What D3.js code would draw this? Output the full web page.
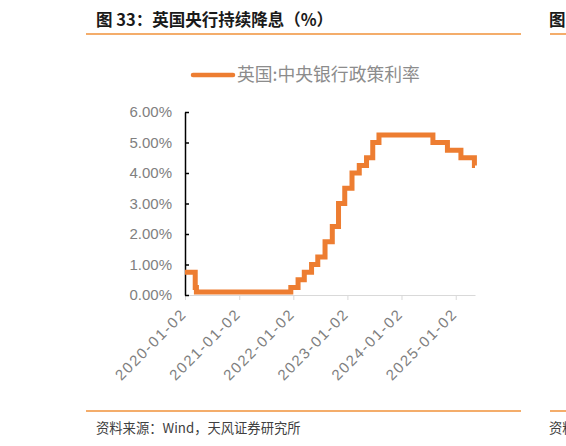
<!DOCTYPE html>
<meta charset="utf-8">
<style type="text/css">
body { margin: 0; background: #fff; }
.title { font-family: "Noto Sans CJK SC", sans-serif; font-size: 16.5px; font-weight: bold; fill: #1a1a1a; }
.rule { stroke: #f0923a; stroke-width: 1.5px; }
.legend-text { font-family: "Noto Sans CJK SC", sans-serif; font-size: 17.8px; fill: #8c8c8c; }
.source { font-family: "Noto Sans CJK SC", sans-serif; font-size: 13.3px; fill: #404040; }
.y.axis text { font-family: "Liberation Sans", sans-serif; font-size: 15px; fill: #808080; }
.x.axis text { font-family: "Liberation Sans", sans-serif; font-size: 15px; fill: #808080; letter-spacing: 1.7px; }
.line { fill: none; stroke: #ed7d31; stroke-width: 5px; stroke-linejoin: miter; }
</style>
<body>
</body>

<script src="https://cdn.jsdelivr.net/npm/d3@7/dist/d3.min.js"></script>
<script>

// policy rate decisions (date, rate %); last entry marks where the series ends
var rateDates = ["2020-01-02", "2020-03-11", "2020-03-19", "2021-12-16", "2022-02-03",
                 "2022-03-17", "2022-05-05", "2022-06-16", "2022-08-04", "2022-09-22",
                 "2022-11-03", "2022-12-15", "2023-02-02", "2023-03-23", "2023-05-11",
                 "2023-06-22", "2023-08-03", "2024-08-01", "2024-11-07", "2025-02-06",
                 "2025-05-08", "2025-05-12"];
var rateValues = [0.75, 0.25, 0.10, 0.25, 0.50,
                  0.75, 1.00, 1.25, 1.75, 2.25,
                  3.00, 3.50, 4.00, 4.25, 4.50,
                  5.00, 5.25, 5.00, 4.75, 4.50,
                  4.25, 4.25];

var xTickLabels = ["2020-01-02", "2021-01-02", "2022-01-02", "2023-01-02", "2024-01-02", "2025-01-02"];
var yTickValues = [0, 1, 2, 3, 4, 5, 6];

var titleText = "图 33：英国央行持续降息（%）";
var legendText = "英国:中央银行政策利率";
var sourceText = "资料来源：Wind，天风证券研究所";

var margin = {top: 112, right: 91, bottom: 151, left: 185},
    width = 566 - margin.left - margin.right,
    height = 446 - margin.top - margin.bottom;

var parser = d3.timeParse("%Y-%m-%d");

var data = rateDates.map(function(d, i) {
    return {date: parser(d), rate: rateValues[i]};
});

var root = d3.select("body")
    .append("svg")
    .attr("width", 566)
    .attr("height", 446);

// header + footer decoration (the next figure's edge peeks in on the right)
root.append("text").attr("class", "title").attr("x", 96).attr("y", 26).text(titleText);
root.append("text").attr("class", "title").attr("x", 549).attr("y", 26).text("图 34");
root.append("line").attr("class", "rule").attr("x1", 86).attr("x2", 521).attr("y1", 34).attr("y2", 34);
root.append("line").attr("class", "rule").attr("x1", 550).attr("x2", 566).attr("y1", 34).attr("y2", 34);
root.append("line").attr("class", "rule").attr("x1", 86).attr("x2", 521).attr("y1", 411).attr("y2", 411);
root.append("line").attr("class", "rule").attr("x1", 550).attr("x2", 566).attr("y1", 411).attr("y2", 411);
root.append("text").attr("class", "source").attr("x", 96).attr("y", 433).text(sourceText);
root.append("text").attr("class", "source").attr("x", 549).attr("y", 433).text("资料来源");

// legend
root.append("line")
    .attr("x1", 193).attr("x2", 233).attr("y1", 75).attr("y2", 75)
    .style("stroke", "#ed7d31").style("stroke-width", "4.5px").style("stroke-linecap", "round");
root.append("text").attr("class", "legend-text").attr("x", 237).attr("y", 81).text(legendText);

var svg = root.append("g")
    .attr("transform", "translate(" + margin.left + "," + margin.top + ")");

var x = d3.scaleTime()
    .domain([parser(rateDates[0]), parser(rateDates[rateDates.length - 1])])
    .range([0, width]);

var y = d3.scaleLinear().domain([0, 6]).range([height, 0]);

// x axis (light grey, ticks down, rotated labels)
var xAxis = svg.append("g")
    .attr("class", "x axis")
    .attr("transform", "translate(0," + height + ")")
    .call(d3.axisBottom(x)
        .tickValues(xTickLabels.map(parser))
        .tickFormat(d3.timeFormat("%Y-%m-%d"))
        .tickSize(5)
        .tickSizeOuter(0));
xAxis.select(".domain").attr("stroke", "#d9d9d9");
xAxis.selectAll(".tick line").attr("stroke", "#d9d9d9");
xAxis.selectAll(".tick text")
    .attr("text-anchor", "end")
    .attr("x", 0).attr("y", 0).attr("dy", 0)
    .attr("transform", "translate(2,20) rotate(-45)");

// y axis (black, ticks inside)
var yAxis = svg.append("g")
    .attr("class", "y axis")
    .call(d3.axisLeft(y)
        .tickValues(yTickValues)
        .tickFormat(function(d) { return d3.format(".2f")(d) + "%"; })
        .tickSize(-4)
        .tickSizeOuter(0)
        .tickPadding(13));
yAxis.select(".domain").attr("stroke", "#000").attr("stroke-width", 1.5);
yAxis.selectAll(".tick line").attr("stroke", "#000").attr("stroke-width", 1.5);

var valueline = d3.line()
    .curve(d3.curveStepAfter)
    .x(function(d) { return x(d.date); })
    .y(function(d) { return y(d.rate); });

svg.append("path")
    .data([data])
    .attr("class", "line")
    .attr("d", valueline);

</script>
